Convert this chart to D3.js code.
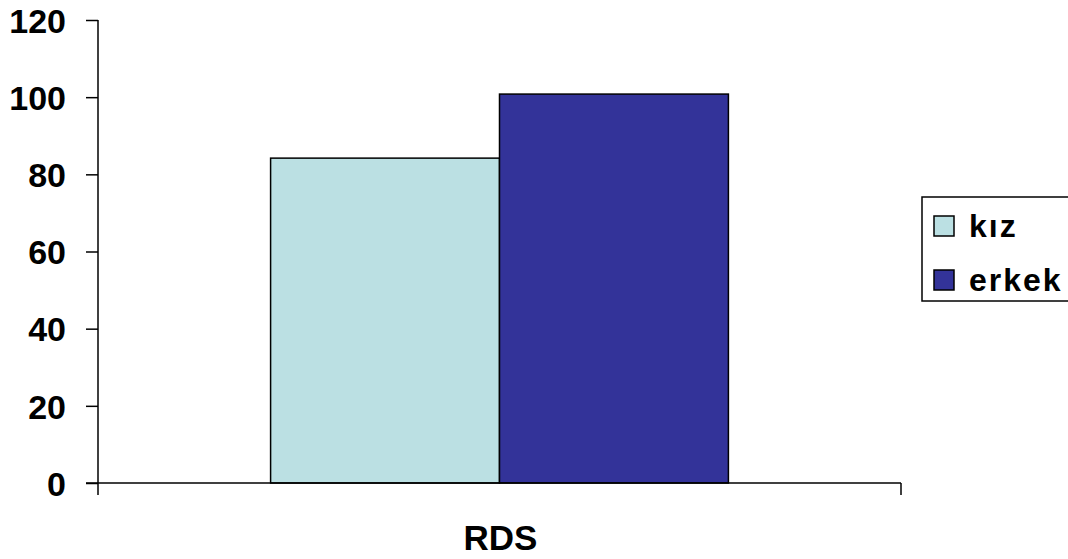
<!DOCTYPE html>
<html><head><meta charset="utf-8">
<script src="https://cdn.jsdelivr.net/npm/d3@7"></script>
<style>body{margin:0;background:#fff}svg{display:block}text{font-family:"Liberation Sans",Arial,sans-serif;font-weight:bold;fill:#000}</style>
</head><body><svg id="c" width="1068" height="559"></svg>
<script>
const categories = ["RDS"];
const seriesNames = ["kız", "erkek"];
const seriesColors = ["#BBE0E3", "#333399"];
const kizValues = [84.2];
const erkekValues = [100.8];
const yTicks = [0, 20, 40, 60, 80, 100, 120];

const svg = d3.select("#c");
const L = 98, R = 901, T = 20, B = 483;
const y = d3.scaleLinear().domain([0, 120]).range([B, T]);
const x0 = d3.scaleBand().domain(categories).range([L, R]).paddingInner(0).paddingOuter(0.377);
const x1 = d3.scaleBand().domain(seriesNames).range([0, x0.bandwidth()]).padding(0);

const data = categories.map((c, i) => ({cat: c, vals: [kizValues[i], erkekValues[i]]}));

const g = svg.append("g");
data.forEach(d => {
  g.selectAll(null).data(d.vals).enter().append("rect")
    .attr("x", (v, j) => x0(d.cat) + x1(seriesNames[j]))
    .attr("y", v => y(v))
    .attr("width", x1.bandwidth())
    .attr("height", v => B - y(v))
    .attr("fill", (v, j) => seriesColors[j])
    .attr("stroke", "#000").attr("stroke-width", 1.5);
});

// y axis
const yAxis = d3.axisLeft(y).tickValues(yTicks).tickSize(12).tickPadding(20);
const ya = svg.append("g").attr("transform", `translate(${L},0)`).call(yAxis);
ya.select(".domain").remove();
ya.selectAll(".tick line").attr("stroke", "#000").attr("stroke-width", 1.5);
ya.selectAll(".tick text").style("font-size", "34px").attr("font-family", null).attr("dy", "0.36em");
svg.append("line").attr("x1", L).attr("x2", L).attr("y1", T).attr("y2", B + 12).attr("stroke", "#000").attr("stroke-width", 1.5);

// x axis
svg.append("line").attr("x1", L - 12).attr("x2", R).attr("y1", B).attr("y2", B).attr("stroke", "#000").attr("stroke-width", 1.5);
svg.append("line").attr("x1", R).attr("x2", R).attr("y1", B).attr("y2", B + 12).attr("stroke", "#000").attr("stroke-width", 1.5);
svg.selectAll(null).data(categories).enter().append("text")
  .attr("x", c => x0(c) + x0.bandwidth() / 2 + 1).attr("y", 550)
  .attr("text-anchor", "middle").style("font-size", "35px").text(c => c);

// legend
const lg = svg.append("g");
lg.append("rect").attr("x", 922).attr("y", 197).attr("width", 170).attr("height", 104)
  .attr("fill", "#fff").attr("stroke", "#000").attr("stroke-width", 1.5);
seriesNames.forEach((s, i) => {
  lg.append("rect").attr("x", 934).attr("y", 216 + i * 54).attr("width", 20).attr("height", 20)
    .attr("fill", seriesColors[i]).attr("stroke", "#000").attr("stroke-width", 1.5);
  lg.append("text").attr("x", 969).attr("y", 237 + i * 54).style("font-size", "32px")
    .style("letter-spacing", "2px").text(s);
});
</script></body></html>
